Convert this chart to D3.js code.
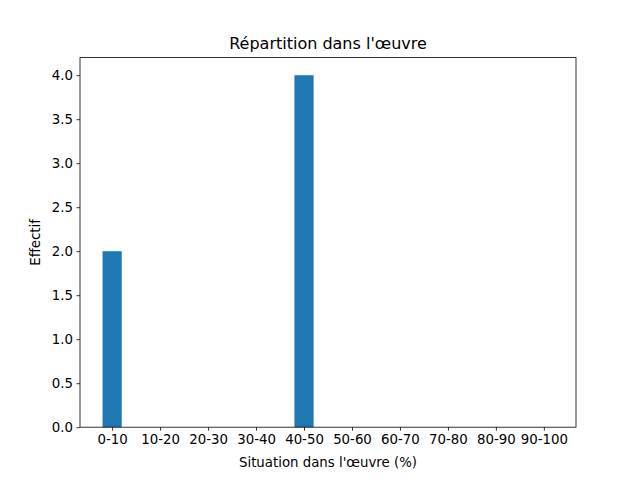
<!DOCTYPE html>
<html><head><meta charset="utf-8">
<script src="https://cdn.jsdelivr.net/npm/d3@7"></script>
<style>body{margin:0;background:#fff}svg{display:block}text{font-family:"DejaVu Sans",sans-serif}</style>
</head><body>
<script>
const categories = ["0-10","10-20","20-30","30-40","40-50","50-60","60-70","70-80","80-90","90-100"];
const counts = [2,0,0,0,4,0,0,0,0,0];
const yTicks = [0,0.5,1,1.5,2,2.5,3,3.5,4];
const title = "Répartition dans l'œuvre";
const xLabel = "Situation dans l'œuvre (%)";
const yLabel = "Effectif";

const W=640,H=480,L=80,R=576,T=57.6,B=427.2;
const svg=d3.select("body").append("svg").attr("width",W).attr("height",H);
const bw=0.4, n=categories.length;
const pad=(n-1+bw)*0.05;
const x=d3.scaleLinear().domain([-bw/2-pad,n-1+bw/2+pad]).range([L,R]);
const y=d3.scaleLinear().domain([0,d3.max(counts)*1.05]).range([B,T]);

svg.append("g").selectAll("rect").data(counts).join("rect")
  .attr("x",(d,i)=>x(i-bw/2)).attr("width",(d,i)=>x(i+bw/2)-x(i-bw/2))
  .attr("y",d=>y(d)).attr("height",d=>y(0)-y(d)).attr("fill","#1f77b4");

const xa=svg.append("g").attr("transform",`translate(0,${B})`)
  .call(d3.axisBottom(x).tickValues(d3.range(n)).tickFormat(i=>categories[i]).tickSize(3.5).tickPadding(3.5));
const ya=svg.append("g").attr("transform",`translate(${L},0)`)
  .call(d3.axisLeft(y).tickValues(yTicks).tickFormat(d3.format(".1f")).tickSize(3.5).tickPadding(3.5));
[xa,ya].forEach(a=>{a.select(".domain").remove();a.selectAll("text").attr("font-size","13.33px").attr("fill","#000").attr("font-family","DejaVu Sans");a.selectAll("line").attr("stroke","#000").attr("stroke-width",0.8);});

svg.append("rect").attr("x",L).attr("y",T).attr("width",R-L).attr("height",B-T)
  .attr("fill","none").attr("stroke","#000").attr("stroke-width",0.8);

svg.append("text").attr("x",(L+R)/2).attr("y",T-9).attr("text-anchor","middle").attr("font-size","16px").text(title);
svg.append("text").attr("x",(L+R)/2).attr("y",467).attr("text-anchor","middle").attr("font-size","13.33px").text(xLabel);
svg.append("text").attr("transform",`translate(40,${(T+B)/2}) rotate(-90)`).attr("text-anchor","middle").attr("font-size","13.33px").text(yLabel);
</script>
</body></html>
